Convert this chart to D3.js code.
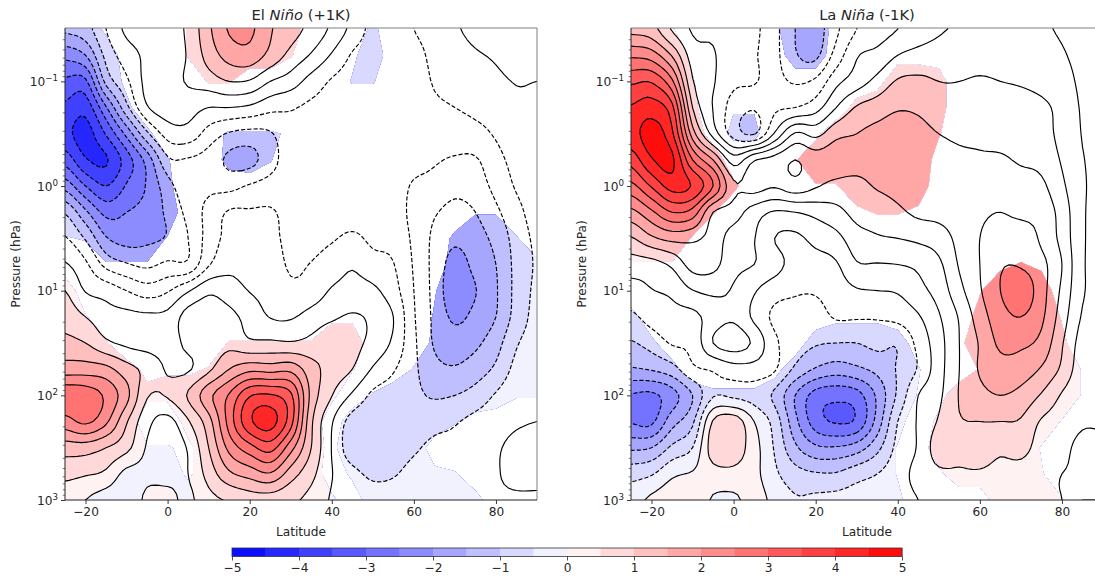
<!DOCTYPE html>
<html><head><meta charset="utf-8">
<style>
html,body{margin:0;padding:0;background:#fff;overflow:hidden}
svg{display:block}
text{font-family:"DejaVu Sans",sans-serif;fill:#262626}
</style>
<script src="https://cdn.jsdelivr.net/npm/d3@7"></script>
</head><body>
<svg id="fig" width="1095" height="579"></svg>
<script>
// Grid axes of the two anomaly fields
const lats=[-25,-20,-15,-10,-5,0,5,10,15,20,25,30,35,40,45,50,55,60,65,70,75,80,85,90];
const logP=[-1.5,-1.25,-1,-.75,-.5,-.25,0,.25,.5,.75,1,1.25,1.5,1.75,2,2.25,2.5,2.75,3];
const latTicks=[-20,0,20,40,60,80];
const pressureTicks=[0.1,1,10,100,1000];
const barTicks=[-5,-4,-3,-2,-1,0,1,2,3,4,5];
const levels=[-5,-4.5,-4,-3.5,-3,-2.5,-2,-1.5,-1,-.5,0,.5,1,1.5,2,2.5,3,3.5,4,4.5,5];

// Values by latitude (one list per latitude, top of atmosphere to surface)
const elNino=[
[-1.4,-2.35,-3.1,-3.6,-3.85,-3.2,-2.2,-1.05,-.45,.05,.5,.8,1.15,1.75,2.85,2.3,1.25,.65,.2],
[-1.2,-2,-3.1,-3.8,-4.2,-3.95,-3,-1.9,-1.05,-.4,-.03,.5,1,1.75,2.8,2.6,1.25,.55,0],
[-.5,-.85,-1.35,-2.55,-3.45,-4.05,-3.5,-2.65,-1.95,-1.15,-.2,.2,.6,1.65,2.4,2.1,1,.4,-.25],
[.1,-.25,-.6,-1.15,-2.35,-3.25,-2.95,-2.5,-2.2,-1.45,-.5,.15,.4,1.2,1.65,1.05,.65,-.15,-.35],
[.2,.1,.15,-.05,-1.1,-2.3,-2.45,-2.3,-2.1,-1.6,-.75,.1,.3,.85,.55,.15,-.05,-.1,.1],
[.3,.2,.3,.25,-.3,-1.1,-1.7,-1.9,-1.95,-1.4,-.55,.15,.3,.45,.55,-.15,-.25,-.15,.15],
[.6,.55,.55,.2,-.2,-1.05,-1.15,-1.35,-1.5,-1.4,-.05,.7,.6,.45,1.05,.45,.05,0,-.1],
[1.4,1.2,.75,0,-.7,-1.2,-1.1,-.85,-.8,-.55,.4,.75,.7,.9,1.85,1.3,1,.7,.35],
[2.05,1.7,1,0,-1.05,-1.6,-1.15,-.45,-.35,-.15,.25,.65,.85,1.5,2.55,2.7,2.15,1.4,.55],
[2.1,1.8,.95,-.1,-1.15,-1.65,-.95,-.45,-.3,-.25,-.02,.3,.6,1.85,3.45,3.9,2.8,1.7,.75],
[1.55,1.35,.5,-.35,-1.05,-1.2,-.8,-.45,-.4,-.3,-.15,-.02,.6,1.8,3.55,4.2,3.2,1.95,.75],
[1.2,.85,.25,-.45,-.65,-.75,-.7,-.65,-.6,-.55,-.4,-.05,.55,1.85,3.1,3.2,2.2,1.25,.6],
[.85,.45,-.2,-.6,-.7,-.75,-.75,-.7,-.65,-.48,-.3,.2,.65,1.2,1.35,1.1,1,.65,.35],
[.4,-.05,-.55,-.65,-.75,-.8,-.8,-.75,-.55,-.25,.05,.42,.85,.8,.52,.05,-.02,.02,-.05],
[-.15,-.55,-.7,-.7,-.75,-.8,-.8,-.75,-.4,-.05,.15,.55,.65,.5,-.08,-.7,-.8,-.35,-.15],
[-.65,-.75,-.75,-.75,-.75,-.75,-.8,-.7,-.6,-.3,.1,.4,.35,-.05,-.6,-.8,-.85,-.6,-.25],
[-.75,-.8,-.75,-.7,-.7,-.75,-.8,-.75,-.65,-.48,-.3,0,-.1,-.45,-.75,-.9,-.85,-.55,-.25],
[-.5,-.7,-.8,-.8,-.8,-.85,-1.05,-1.15,-1.1,-1.05,-1,-.95,-.9,-.9,-.9,-.9,-.6,-.3,-.15],
[-.25,-.35,-.45,-.6,-.75,-.95,-1.15,-1.45,-1.6,-1.65,-1.65,-1.6,-1.55,-1.35,-1.05,-.7,-.35,-.2,-.1],
[-.05,-.2,-.35,-.5,-.75,-1.05,-1.35,-1.65,-1.9,-2.2,-2.35,-2.1,-1.75,-1.45,-1,-.55,-.35,-.15,-.1],
[.1,-.05,-.3,-.4,-.65,-1.05,-1.25,-1.5,-1.7,-1.85,-2.02,-1.85,-1.6,-1.25,-.8,-.35,-.2,-.15,-.1],
[.15,.05,-.1,-.3,-.45,-.65,-.85,-1.1,-1.35,-1.5,-1.55,-1.5,-1.2,-.9,-.45,-.2,-.05,-.03,-.05],
[.2,.15,.02,-.1,-.25,-.35,-.45,-.65,-.8,-.85,-.85,-.8,-.55,-.35,-.15,-.05,.1,.1,-.05],
[.2,.15,0,-.1,-.15,-.2,-.25,-.3,-.4,-.45,-.4,-.35,-.3,-.2,-.1,0,.1,.1,-.05]
];
const laNina=[
[1.35,2.4,3.4,4.05,4.3,3.7,2.85,1.85,.95,.25,-.2,-.6,-1.05,-1.55,-2.55,-2.55,-1.6,-.7,-.2],
[1.2,2.25,3.45,4.25,4.7,4.45,3.55,2.4,1.4,.3,-.02,-.3,-.8,-1.45,-2.6,-2.6,-1.5,-.55,.1],
[.45,1.45,2.6,3.65,4.1,4.6,4.2,3,1.65,.6,.1,-.15,-.45,-1.2,-2.2,-1.7,-.9,-.1,.3],
[-.05,.25,.55,1,1.75,3,3.95,2.8,1.6,1.2,.48,-.15,-.35,-.6,-1.5,-1.1,-.5,.05,.35],
[-.1,.05,.05,-.02,.3,2,3,1.5,1.3,1.15,.6,.25,.5,-.45,-.55,.55,.75,.3,-.05],
[-.35,-.35,-.4,-.7,-.7,.75,1.6,1.25,.75,.65,.45,.42,.75,-.2,-.6,.8,.8,.35,-.1],
[-.4,-.45,-.45,-.95,-1.05,1.45,1.7,.75,.52,.5,.05,-.1,.4,-.2,-.7,0,.2,.15,.2],
[-.85,-.85,-.8,-.6,.05,1.7,1.55,.45,0,.2,-.3,-.6,-.4,-.45,-1.1,-.7,-.55,-.4,-.15],
[-1.5,-1.45,-1.05,-.5,1.05,2,1.8,.5,-.1,-.2,-.45,-.65,-.75,-1.1,-2,-1.85,-1.4,-.8,-.45],
[-1.7,-1.6,-.9,-.2,.85,1.75,1.55,.65,.15,-.2,-.45,-.7,-.95,-1.55,-2.7,-2.75,-1.9,-.95,-.4],
[-1.1,-.8,-.15,.5,1.35,1.8,1.35,.85,.35,-.05,-.25,-.45,-1,-1.75,-2.85,-3.05,-1.95,-.95,-.35],
[-.5,-.05,.25,1.05,1.5,1.7,1.35,1.15,.8,.45,-.05,-.45,-1,-1.6,-2.7,-2.9,-1.75,-.7,-.3],
[-.25,.15,.65,1.25,1.65,1.75,1.55,1.2,.95,.47,0,-.45,-.85,-1.35,-1.9,-1.8,-1.15,-.5,-.25],
[0,.5,1.05,1.45,1.75,1.7,1.65,1.4,1,.5,.05,-.35,-.95,-.95,-.9,-.5,-.35,-.2,-.15],
[.25,.65,1.1,1.4,1.7,1.75,1.75,1.6,1.1,.6,.35,-.05,-.35,-.45,0,.05,.05,.15,0],
[.45,.7,1,1.15,1.5,1.7,1.75,1.65,1.25,.9,.7,.45,.3,.3,.4,.55,.75,.4,.2],
[.55,.75,1,1.1,1.4,1.6,1.7,1.75,1.65,1.55,1.35,1.05,1,1,1.03,.95,.65,.45,.25],
[.65,.8,1.05,1.2,1.4,1.55,1.65,1.9,2,2,1.95,1.75,1.55,1.55,1.35,1,.75,.45,.25],
[.65,.8,1,1.2,1.35,1.55,1.7,2,2.25,2.45,2.5,2.3,2.1,1.8,1.5,1,.6,.35,.15],
[.6,.75,.95,1.2,1.35,1.45,1.7,1.85,2.4,2.45,2.85,2.5,2.1,1.75,1.35,.95,.7,.25,.1],
[.55,.7,.85,1.1,1.2,1.35,1.6,1.8,1.9,2.15,2.2,2.1,1.85,1.45,.95,.45,.25,.1,.05],
[.45,.55,.7,.85,.85,.95,1.1,1.3,1.35,1.5,1.4,1.25,1.05,.9,.45,.25,.1,0,0],
[.3,.35,.4,.45,.48,.52,.55,.55,.55,.55,.55,.45,.3,.2,.1,.05,-.1,-.02,0],
[.25,.3,.35,.4,.4,.45,.45,.45,.45,.45,.4,.35,.25,.15,.1,.05,-.1,-.1,0]
];
// Shading strength (0-9, 9 = shaded) by pressure row, one digit per latitude
const elNinoSig=[
"993000599999000600000000","999100599995003900000000","999300055000005500000000",
"999600000000000000000000","999960035554000000000000","999995007950000000000000",
"999996000000000000000000","999999000000000000004400","459994000000000000069950",
"004440000000000000089996","900000000000000000499999","950000000000033000599999",
"995000005555599000699999","999734359999995005999999","999966999999960599999955",
"999900799999909999952000","999955399999739999100000","999999399999906999650000",
"999999999999960999997000"];
const laNinaSig=[
"995000039920000000000000","999300009900022200000000","999500000000299700000000",
"999604400007999700000000","999916600399999500000000","999990004999999200000000",
"999996000449999000000000","999950000003553000000000","999400000000000000000000",
"444000000000000000353000","000000000000000004999000","700000000033300007999400",
"960000000999990039999600","997000029999995005999940","999966699999994299999940",
"999999999999970699999400","999999999999940999994000","999999999999940399995000",
"999999999999960000999500"];

const colorOf=t=>{const v=(t+.25+5)/10;const c=Math.round(255*(v<.5?2*v:2-2*v));
  return v<.5?`rgb(${c},${c},255)`:`rgb(255,${c},${c})`;};

const svg=d3.select("#fig");
const defs=svg.append("defs");
const nx=lats.length,ny=logP.length;
const latOfIndex=d3.scaleLinear().domain([0,nx-1]).range([lats[0],lats[nx-1]]);
const logOfIndex=d3.scaleLinear().domain([0,ny-1]).range([logP[0],logP[ny-1]]);

function cr(p0,p1,p2,p3,t){return .5*(2*p1+(p2-p0)*t+(2*p0-5*p1+4*p2-p3)*t*t+(3*p1-p0-3*p2+p3)*t*t*t);}
// Resample a grid for contouring; pad extends it past the axes so lines leave the frame cleanly
function resample(get,f,pad){
  const W=(nx-1+2*pad)*f+1,H=(ny-1+2*pad)*f+1,out=new Float64Array(W*H);
  const cx=i=>Math.max(0,Math.min(nx-1,i)),cy=j=>Math.max(0,Math.min(ny-1,j));
  for(let j=0;j<H;j++){
    const v=Math.max(0,Math.min(ny-1,j/f-pad)),j0=Math.min(ny-2,Math.floor(v)),tv=v-j0;
    for(let i=0;i<W;i++){
      const u=Math.max(0,Math.min(nx-1,i/f-pad)),i0=Math.min(nx-2,Math.floor(u)),tu=u-i0;
      const rows=[-1,0,1,2].map(d=>cr(get(cx(i0-1),cy(j0+d)),get(cx(i0),cy(j0+d)),get(cx(i0+1),cy(j0+d)),get(cx(i0+2),cy(j0+d)),tu));
      out[i+j*W]=cr(rows[0],rows[1],rows[2],rows[3],tv);
    }
  }
  return {W,H,out,f,pad};
}

function panel(name,left,title,data,sig){
  const x=d3.scaleLinear().domain([-25,90]).range([left,left+472]);
  const y=d3.scaleLog().domain([0.0309,1000]).range([28,500]);
  const pathFor=g=>d3.geoPath(d3.geoTransform({point(cx,cy){
    const iu=(cx-.5)/g.f-g.pad,iv=(cy-.5)/g.f-g.pad;
    this.stream.point(x(latOfIndex(iu)),y(Math.pow(10,logOfIndex(iv))));
  }}));
  defs.append("clipPath").attr("id","frame"+name).append("rect")
    .attr("x",left).attr("y",28).attr("width",472).attr("height",472);

  const field=resample((i,j)=>data[i][j],5,1);
  const sigGrid=resample((i,j)=>+sig[j][i],1,1);
  const sigShape=d3.contours().size([sigGrid.W,sigGrid.H]).thresholds([4.5])(Array.from(sigGrid.out))[0];
  defs.append("clipPath").attr("id","sig"+name).append("path")
    .attr("clip-rule","evenodd").attr("d",pathFor(sigGrid)(sigShape));

  const contour=d3.contours().size([field.W,field.H]);
  const values=Array.from(field.out);
  const geo=pathFor(field);
  const frame=svg.append("g").attr("clip-path",`url(#frame${name})`);
  const fills=frame.append("g").attr("clip-path",`url(#sig${name})`);
  levels.slice(0,-1).forEach(t=>{
    fills.append("path").attr("d",geo(contour.thresholds([t])(values)[0])).attr("fill",colorOf(t)).attr("fill-rule","evenodd");
  });
  levels.filter(t=>t>-5&&t<5).forEach(t=>{
    const d=geo(contour.thresholds([t])(values)[0]);
    if(!d)return;
    frame.append("path").attr("d",d).attr("fill","none").attr("stroke","#000").attr("stroke-width",1.15)
      .attr("stroke-linejoin","round").attr("stroke-dasharray",t<0?"4.2,2":null);
  });

  // spines
  const sp=[[left,28,left+472,28,"#7f7f7f"],[left+472,28,left+472,500,"#7f7f7f"],[left,28,left,500,"#222"],[left,500,left+472,500,"#222"]];
  sp.forEach(s=>svg.append("line").attr("x1",s[0]).attr("y1",s[1]).attr("x2",s[2]).attr("y2",s[3]).attr("stroke",s[4]).attr("stroke-width",1));

  // axes
  const ax=svg.append("g").attr("transform","translate(0,500)")
    .call(d3.axisBottom(x).tickValues(latTicks).tickSize(4).tickPadding(3.5).tickFormat(d=>String(d).replace("-","\u2212")));
  ax.select(".domain").remove();
  ax.selectAll("text").style("font-family",'"DejaVu Sans"').style("font-size","12.2px").attr("fill","#262626");
  ax.selectAll("line").attr("stroke","#222").attr("stroke-width",.9);
  const ay=svg.append("g").attr("transform",`translate(${left},0)`)
    .call(d3.axisLeft(y).tickValues(pressureTicks).tickSize(4).tickPadding(3.5).tickFormat(()=>""));
  ay.select(".domain").remove();
  ay.selectAll("line").attr("stroke","#222").attr("stroke-width",.9);
  const minors=[];
  for(let e=-2;e<3;e++)for(let m=2;m<10;m++){const v=m*Math.pow(10,e);if(v>=0.0309&&v<=1000)minors.push(v);}
  ay.selectAll(".minor").data(minors).enter().append("line").attr("class","minor")
    .attr("x1",-2.3).attr("x2",0).attr("y1",d=>y(d)).attr("y2",d=>y(d)).attr("stroke","#222").attr("stroke-width",.6);
  pressureTicks.forEach(v=>{
    const e=Math.round(Math.log10(v));
    const t=svg.append("text").attr("x",left-7).attr("y",y(v)+4.5).attr("text-anchor","end").style("font-size","12.2px");
    t.append("tspan").text("10");
    t.append("tspan").attr("dy",-4.8).style("font-size","8.7px").text(String(e).replace("-","\u2212"));
  });
  // labels
  const tt=svg.append("text").attr("x",left+236).attr("y",19.5).attr("text-anchor","middle").style("font-size","14.7px");
  tt.append("tspan").text(title[0]+" ");
  tt.append("tspan").style("font-style","italic").text(title[1]);
  tt.append("tspan").text(" "+title[2]);
  svg.append("text").attr("x",left+236).attr("y",536).attr("text-anchor","middle").style("font-size","12.2px").text("Latitude");
  svg.append("text").attr("transform",`translate(${left-45},264) rotate(-90)`).attr("text-anchor","middle").style("font-size","12.2px").text("Pressure (hPa)");
}

panel("A",65,["El","Ni\u00f1o","(+1K)"],elNino,elNinoSig);
panel("B",631,["La","Ni\u00f1a","(-1K)"],laNina,laNinaSig);

// colour bar
const bx=d3.scaleLinear().domain([-5,5]).range([232,902]);
svg.selectAll(".band").data(levels.slice(0,-1)).enter().append("rect").attr("class","band")
  .attr("x",d=>bx(d)).attr("y",548).attr("width",d=>bx(d+.5)-bx(d)+.4).attr("height",8.5).attr("fill",colorOf);
svg.append("rect").attr("x",232).attr("y",548).attr("width",670).attr("height",8.5).attr("fill","none").attr("stroke","#333").attr("stroke-width",.8);
const bar=svg.append("g").attr("transform","translate(0,556.5)")
  .call(d3.axisBottom(bx).tickValues(barTicks).tickSize(4).tickPadding(2.5).tickFormat(d=>String(d).replace("-","\u2212")));
bar.select(".domain").remove();
bar.selectAll("line").attr("stroke","#222").attr("stroke-width",.8);
bar.selectAll("text").style("font-family",'"DejaVu Sans"').style("font-size","12.2px").attr("fill","#262626");
</script>
</body></html>
